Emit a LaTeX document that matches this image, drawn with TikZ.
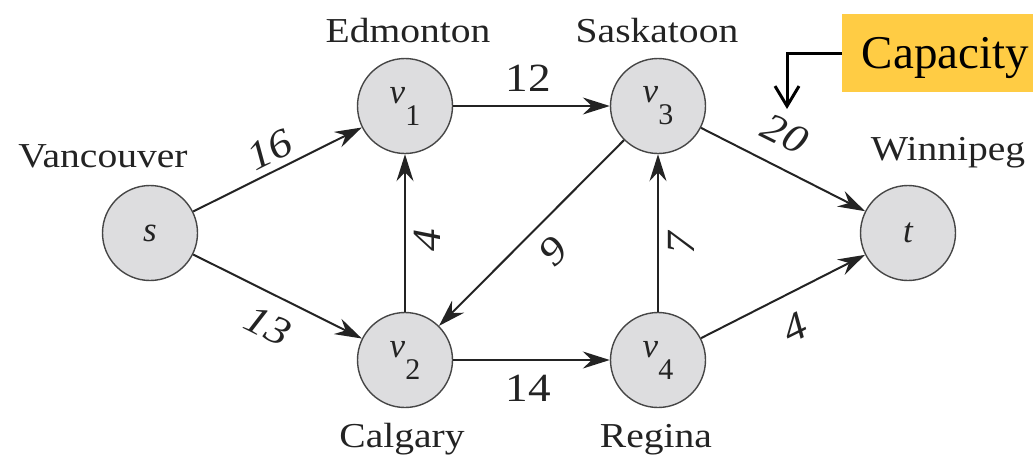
\documentclass[tikz,border=0pt]{standalone}
\usepackage{fontspec}
\newfontfamily\plainserif{Liberation Serif}
\newfontfamily\widefont[FakeStretch=1.13]{Liberation Serif}
\usetikzlibrary{arrows.meta}

\definecolor{nodefill}{RGB}{221,221,223}
\definecolor{nodeline}{RGB}{70,70,70}
\definecolor{capfill}{RGB}{255,204,68}
\definecolor{inkgray}{RGB}{35,35,35}

% italic v with a large, well lowered subscript
\newcommand{\vsub}[1]{{\itshape v}\raisebox{-22pt}{\fontsize{30}{30}\selectfont #1}}

\begin{document}
\begin{tikzpicture}[x=1pt,y=-1pt,
  vertex/.style={circle, draw=nodeline, fill=nodefill, line width=1.4pt,
    minimum size=95pt, inner sep=0pt, text=inkgray,
    font=\plainserif\fontsize{35}{35}\selectfont},
  flow/.style={draw=inkgray, line width=2pt,
    -{Stealth[length=27pt,width=17pt,inset=9pt]}},
  city/.style={anchor=base, inner sep=0pt, text=inkgray,
    font=\widefont\fontsize{35}{35}\selectfont},
  capup/.style={inner sep=0pt, text=inkgray,
    font=\widefont\fontsize{40}{40}\selectfont},
  capit/.style={inner sep=0pt, text=inkgray,
    font=\widefont\itshape\fontsize{40}{40}\selectfont},
  capbox/.style={fill=capfill, inner ysep=0pt, inner xsep=4pt,
    text width=183pt, align=right, minimum height=78pt,
    text height=40pt, text depth=10pt,
    font=\plainserif\fontsize{47}{47}\selectfont},
  pointer/.style={draw=black, line width=3pt,
    -{Straight Barb[length=20pt,width=24pt]}},
]
\useasboundingbox (0,0) rectangle (1033,461);

% vertices
\node[vertex] (s)  at (150,233) {\itshape s};
\node[vertex] (v1) at (405,106) {\vsub{1}};
\node[vertex] (v3) at (658,106) {\vsub{3}};
\node[vertex] (v2) at (405,360) {\vsub{2}};
\node[vertex] (v4) at (658,360) {\vsub{4}};
\node[vertex] (t)  at (908,233) {\itshape t};

% city names
\node[city] (edmonton)  at (408,42)  {Edmonton};
\node[city] (saskatoon) at (657,42)  {Saskatoon};
\node[city] (vancouver) at (103,167) {Vancouver};
\node[city] (winnipeg)  at (948,160) {Winnipeg};
\node[city] (calgary)   at (402,447) {Calgary};
\node[city] (regina)    at (656,447) {Regina};

% arcs
\draw[flow] (s)  -- (v1);
\draw[flow] (s)  -- (v2);
\draw[flow] (v1) -- (v3);
\draw[flow] (v2) -- (v1);
\draw[flow] (v3) -- (v2);
\draw[flow] (v2) -- (v4);
\draw[flow] (v4) -- (v3);
\draw[flow] (v3) -- (t);
\draw[flow] (v4) -- (t);

% capacities
\node[capit, rotate=26.5]  (c16) at (270,150) {16};
\node[capit, rotate=-26.5] (c13) at (268,326) {13};
\node[capup]               (c12) at (528,78)  {12};
\node[capup]               (c14) at (528,388) {14};
\node[capit, rotate=90]    (c4a) at (427,240) {4};
\node[capit, rotate=45]    (c9)  at (553,251) {9};
\node[capit, rotate=90]    (c7)  at (681,243) {7};
\node[capit, rotate=-26.5] (c20) at (785,134) {20};
\node[capit, rotate=26.5]  (c4b) at (795,328) {4};

% callout
\node[capbox] (capacity) at (937.5,53) {Capacity};
\coordinate (capTip) at (787,109);
\draw[pointer] (capacity.west) -| (capTip);
\end{tikzpicture}
\end{document}
